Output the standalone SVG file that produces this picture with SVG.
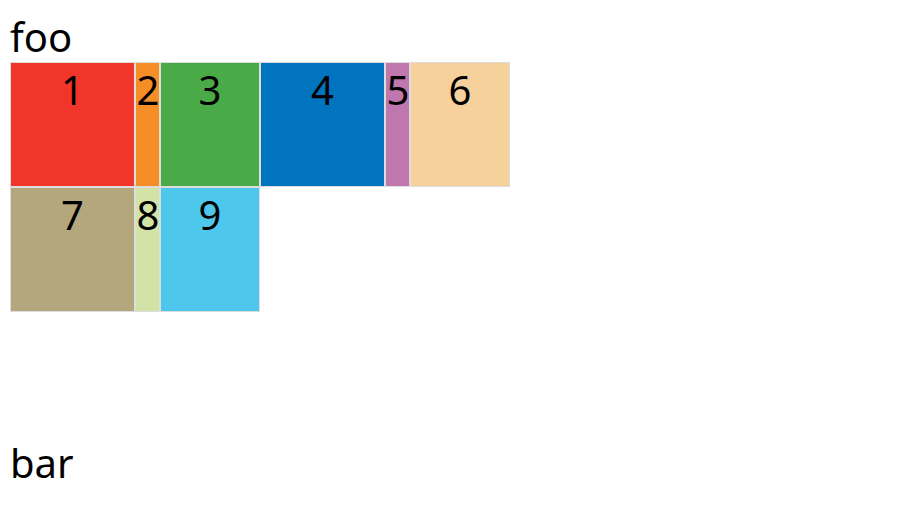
<svg xmlns="http://www.w3.org/2000/svg" width="911" height="522" viewBox="0 0 911 522">
<style>
text{font-family:"Noto Sans","Open Sans",sans-serif;font-size:40px;fill:#000}
.b rect{stroke:#dddddd;stroke-width:1}
.n{text-anchor:middle}
</style>
<rect width="911" height="522" fill="#fff"/>
<text x="10" y="52">foo</text>
<g class="b">
<g id="n1"><rect x="10.5" y="62.5" width="124" height="124" fill="#f1352a"/><text class="n" x="72.5" y="105">1</text></g>
<g id="n2"><rect x="135.5" y="62.5" width="24" height="124" fill="#f68e26"/><text class="n" x="148" y="105">2</text></g>
<g id="n3"><rect x="160.5" y="62.5" width="99" height="124" fill="#4aaa48"/><text class="n" x="210" y="105">3</text></g>
<g id="n4"><rect x="260.5" y="62.5" width="124" height="124" fill="#0074bf"/><text class="n" x="322.5" y="105">4</text></g>
<g id="n5"><rect x="385.5" y="62.5" width="24" height="124" fill="#c077ad"/><text class="n" x="398" y="105">5</text></g>
<g id="n6"><rect x="410.5" y="62.5" width="99" height="124" fill="#f6d19b"/><text class="n" x="460" y="105">6</text></g>
<g id="n7"><rect x="10.5" y="187.5" width="124" height="124" fill="#b4a77e"/><text class="n" x="72.5" y="230">7</text></g>
<g id="n8"><rect x="135.5" y="187.5" width="24" height="124" fill="#d2e3a8"/><text class="n" x="148" y="230">8</text></g>
<g id="n9"><rect x="160.5" y="187.5" width="99" height="124" fill="#4ec7ed"/><text class="n" x="210" y="230">9</text></g>
</g>
<g id="connectors"/>
<text x="10" y="478">bar</text>
</svg>
